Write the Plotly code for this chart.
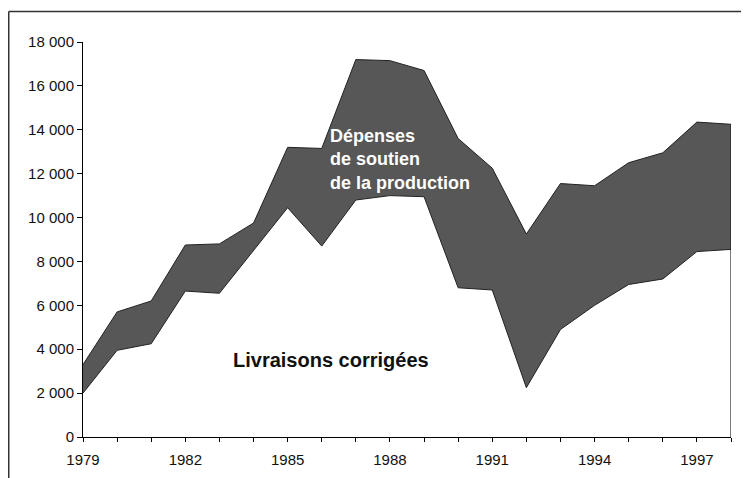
import plotly.graph_objects as go

# Données (lecture du graphique)
annees = list(range(1979, 1999))
livraisons = [2000, 3950, 4250, 6650, 6550, 8500, 10450, 8700, 10800, 11000,
              10950, 6800, 6700, 2250, 4900, 6000, 6950, 7200, 8450, 8550]
soutien = [1300, 1750, 1950, 2100, 2250, 1250, 2750, 4450, 6400, 6150,
           5750, 6800, 5550, 7000, 6650, 5450, 5550, 5750, 5900, 5700]
y_ticks = list(range(0, 18001, 2000))
x_ticks = list(range(1979, 1999, 3))

_FILL = "#575757"
_EDGE = "#222222"
_FONT = "Liberation Sans, Arial, sans-serif"

fig = go.Figure()

fig.add_trace(go.Scatter(
    x=annees, y=livraisons, name="Livraisons corrigées",
    mode="lines", stackgroup="one", fillcolor="white",
    line=dict(color=_EDGE, width=1),
))
fig.add_trace(go.Scatter(
    x=annees, y=soutien, name="Dépenses de soutien de la production",
    mode="lines", stackgroup="one", fillcolor=_FILL,
    line=dict(color=_EDGE, width=1),
))
# bord droit de l'aire
total_fin = livraisons[-1] + soutien[-1]
fig.add_trace(go.Scatter(
    x=[annees[-1], annees[-1]], y=[0, total_fin], mode="lines",
    line=dict(color=_EDGE, width=1.2), showlegend=False, hoverinfo="skip",
))

# ── textes ───────────────────────────────────────────────────────────────
fig.add_annotation(text="<b>Dépenses<br>de soutien<br>de la production</b>",
                   x=0.378, y=0.7025, xref="paper", yref="paper",
                   showarrow=False, xanchor="left", yanchor="middle", align="left",
                   font=dict(family=_FONT, size=18, color="white"))
fig.add_annotation(text="<b>Livraisons corrigées</b>", x=0.382, y=0.195,
                   xref="paper", yref="paper", showarrow=False,
                   xanchor="center", yanchor="middle",
                   font=dict(family=_FONT, size=20, color="#111111"))

# cadre extérieur (haut + gauche visibles)
fig.add_shape(type="line", xref="paper", yref="paper",
              x0=-0.1146, x1=1.1, y0=1.0772, y1=1.0772,
              line=dict(color="#333333", width=1.5))
fig.add_shape(type="line", xref="paper", yref="paper",
              x0=-0.1146, x1=-0.1146, y0=1.0772, y1=-0.2,
              line=dict(color="#333333", width=1.5))

# la page ajoute 8 px de marge autour du graphique : marges compensées
fig.update_layout(
    width=749, height=478,
    margin=dict(l=75, r=26, t=34, b=49),
    paper_bgcolor="white", plot_bgcolor="white",
    showlegend=False,
    separators=", ",
    font=dict(family=_FONT, size=15, color="#111111"),
)
fig.update_yaxes(
    range=[0, 18000], tickvals=y_ticks, tickformat=",d",
    showgrid=False, zeroline=False,
    showline=True, linecolor="black", linewidth=1,
    ticks="outside", ticklen=5, tickcolor="black",
)
fig.update_xaxes(
    range=[1979, 1998], tickvals=x_ticks, tickformat="d",
    showgrid=False, zeroline=False,
    showline=True, linecolor="black", linewidth=1,
    ticks="outside", ticklen=4, tickcolor="black", ticklabelstandoff=5,
    minor=dict(dtick=1, tick0=1979, ticks="outside", ticklen=4, tickcolor="black"),
)

fig.write_html("out.html")
